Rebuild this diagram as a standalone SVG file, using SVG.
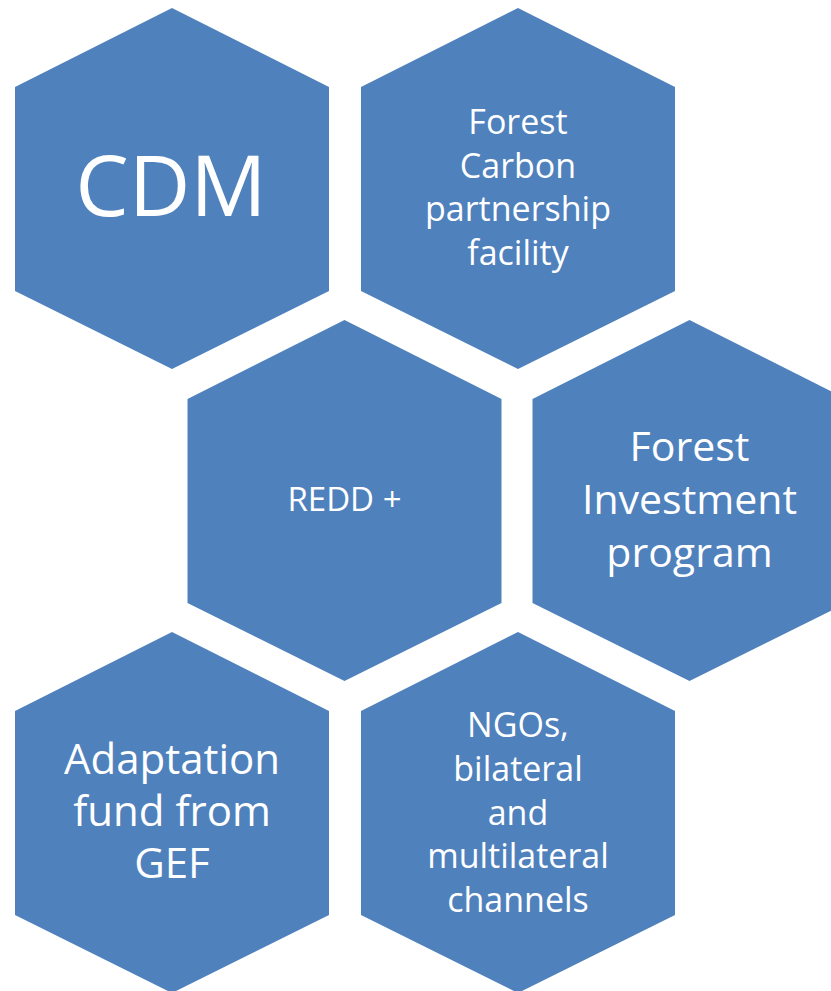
<svg xmlns="http://www.w3.org/2000/svg" width="831" height="991" viewBox="0 0 831 991">
  <style>
    .hex { fill: #4F81BD; }
    .lbl { fill: #FFFFFF; font-family: "Open Sans", "Liberation Sans", sans-serif; text-anchor: middle; }
    .s34 { font-size: 34px; }
    .s41 { font-size: 41px; }
  </style>
  <rect width="831" height="991" fill="#FFFFFF"/>

  <!-- Row 1 -->
  <g id="cdm">
    <polygon class="hex" points="172,8 329,87 329,291 172,369 15,291 15,87"/>
    <text class="lbl" x="171" y="216" font-size="85">CDM</text>
  </g>
  <g id="fcpf">
    <polygon class="hex" points="518,8 675,87 675,291 518,369 361,291 361,87"/>
    <text class="lbl s34" x="518" y="134">Forest</text>
    <text class="lbl s34" x="518" y="177.5">Carbon</text>
    <text class="lbl s34" x="518" y="221">partnership</text>
    <text class="lbl s34" x="518" y="264.5">facility</text>
  </g>

  <!-- Row 2 -->
  <g id="redd">
    <polygon class="hex" points="344.5,320 501.5,399 501.5,603 344.5,681 187.5,603 187.5,399"/>
    <text class="lbl" x="344.5" y="511" font-size="33">REDD +</text>
  </g>
  <g id="fip">
    <polygon class="hex" points="689.5,320 846.5,399 846.5,603 689.5,681 532.5,603 532.5,399"/>
    <text class="lbl s41" x="689.5" y="461">Forest</text>
    <text class="lbl s41" x="689.5" y="514">Investment</text>
    <text class="lbl s41" x="689.5" y="567">program</text>
  </g>

  <!-- Row 3 -->
  <g id="adaptation">
    <polygon class="hex" points="172,632 329,711 329,915 172,993 15,915 15,711"/>
    <text class="lbl" x="172" y="774" font-size="42">Adaptation</text>
    <text class="lbl" x="172" y="826" font-size="42">fund from</text>
    <text class="lbl" x="172" y="878" font-size="42">GEF</text>
  </g>
  <g id="ngos">
    <polygon class="hex" points="518,632 675,711 675,915 518,993 361,915 361,711"/>
    <text class="lbl s34" x="518" y="737">NGOs,</text>
    <text class="lbl s34" x="518" y="781">bilateral</text>
    <text class="lbl s34" x="518" y="824.5">and</text>
    <text class="lbl s34" x="518" y="868">multilateral</text>
    <text class="lbl s34" x="518" y="912">channels</text>
  </g>

  <g id="connectors"/>
</svg>
